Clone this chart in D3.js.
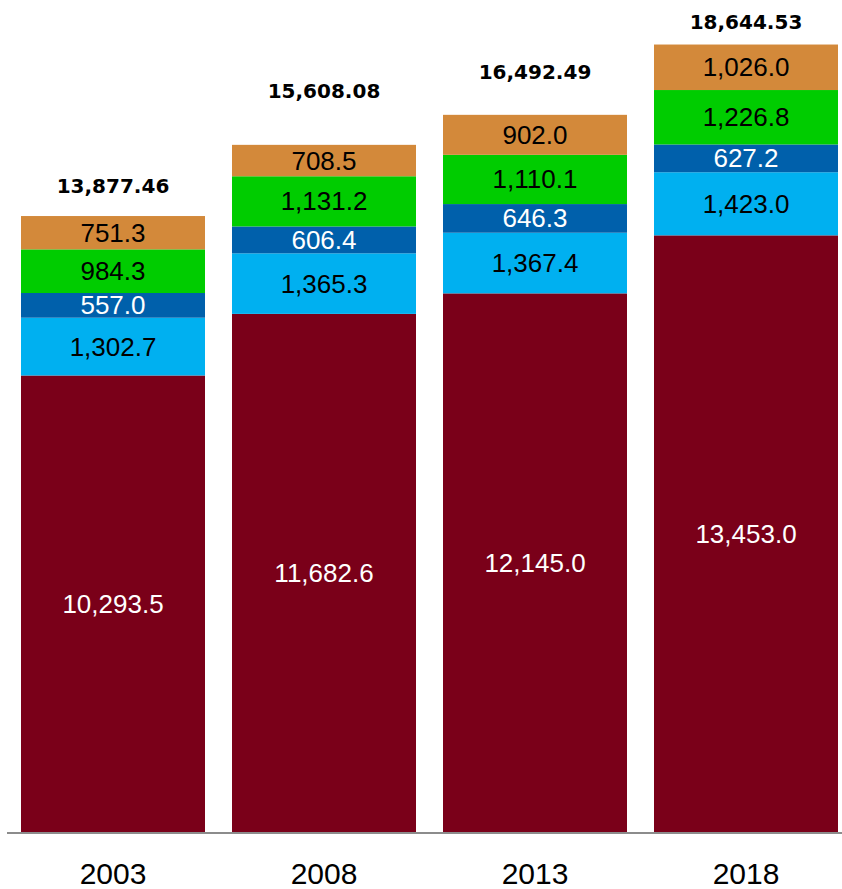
<!DOCTYPE html>
<html>
<head>
<meta charset="utf-8">
<script src="https://cdn.jsdelivr.net/npm/d3@7"></script>
<style>
  html, body { margin: 0; padding: 0; background: #fff; }
  svg { display: block; }
</style>
</head>
<body>
<svg id="chart" width="842" height="889"></svg>
<script>
// Years on the horizontal axis
const years = ["2003", "2008", "2013", "2018"];

// Stacked components, bottom to top
const seriesNames = ["base", "cyan", "blue", "green", "orange"];
const baseValues   = [10293.5, 11682.6, 12145.0, 13453.0];
const cyanValues   = [1302.7, 1365.3, 1367.4, 1423.0];
const blueValues   = [557.0, 606.4, 646.3, 627.2];
const greenValues  = [984.3, 1131.2, 1110.1, 1226.8];
const orangeValues = [751.3, 708.5, 902.0, 1026.0];

// Reported totals shown above each column
const totals = [13877.46, 15608.08, 16492.49, 18644.53];

// Styling
const fills      = ["#7a0019", "#00b0f0", "#0060ab", "#00cc00", "#d3893a"];
const labelInk   = ["#ffffff", "#000000", "#ffffff", "#000000", "#000000"];
const totalLift  = [23, 47, 36, 16]; // gap between column top and its total label

const width = 842, height = 889;
const baseY = 832;

const rows = years.map((yr, i) => ({
  year: yr,
  base: baseValues[i],
  cyan: cyanValues[i],
  blue: blueValues[i],
  green: greenValues[i],
  orange: orangeValues[i],
  total: totals[i]
}));

const stack = d3.stack().keys(seriesNames);
const layers = stack(rows);

const x = d3.scaleBand()
  .domain(years)
  .range([7.5, 851.5])
  .paddingInner(0.128)
  .paddingOuter(0.064);

const y = d3.scaleLinear()
  .domain([0, 18760])
  .range([baseY, 0]);

const svg = d3.select("#chart");

const fmt1 = d3.format(",.1f");
const fmt2 = d3.format(",.2f");

// Column segments
const groups = svg.selectAll("g.layer")
  .data(layers)
  .join("g")
  .attr("class", "layer")
  .attr("fill", (d, i) => fills[i]);

groups.selectAll("rect")
  .data(d => d)
  .join("rect")
  .attr("x", d => x(d.data.year))
  .attr("width", x.bandwidth())
  .attr("y", d => y(d[1]))
  .attr("height", d => y(d[0]) - y(d[1]));

// Segment value labels
const labelGroups = svg.selectAll("g.seglabels")
  .data(layers)
  .join("g")
  .attr("class", "seglabels")
  .attr("fill", (d, i) => labelInk[i]);

labelGroups.selectAll("text")
  .data(d => d.map(p => ({ p, key: d.key })))
  .join("text")
  .attr("x", d => x(d.p.data.year) + x.bandwidth() / 2)
  .attr("y", d => (y(d.p[0]) + y(d.p[1])) / 2)
  .attr("text-anchor", "middle")
  .attr("dominant-baseline", "central")
  .style("font-family", "'Century Gothic', 'URW Gothic', 'Liberation Sans', sans-serif")
  .style("font-size", "26px")
  .text(d => fmt1(d.p.data[d.key]));

// Baseline axis
const xAxis = d3.axisBottom(x).tickSize(0).tickPadding(0);
const axisG = svg.append("g")
  .attr("transform", `translate(0,${baseY + 1})`)
  .call(xAxis);
axisG.select(".domain")
  .attr("d", `M7,0H${width}`)
  .attr("stroke", "#8c8c8c")
  .attr("stroke-width", 2);
axisG.selectAll(".tick text")
  .attr("y", 51)
  .attr("dy", 0)
  .attr("fill", "#000")
  .style("font-family", "'Century Gothic', 'URW Gothic', 'Liberation Sans', sans-serif")
  .style("font-size", "30px");

// Total labels above each column
svg.append("g")
  .selectAll("text")
  .data(rows)
  .join("text")
  .attr("x", d => x(d.year) + x.bandwidth() / 2)
  .attr("y", (d, i) => y(d3.sum(seriesNames, k => d[k])) - totalLift[i])
  .attr("text-anchor", "middle")
  .style("font-family", "'DejaVu Sans', sans-serif")
  .style("font-weight", "bold")
  .style("font-size", "20px")
  .attr("fill", "#000")
  .text(d => fmt2(d.total));
</script>
</body>
</html>
